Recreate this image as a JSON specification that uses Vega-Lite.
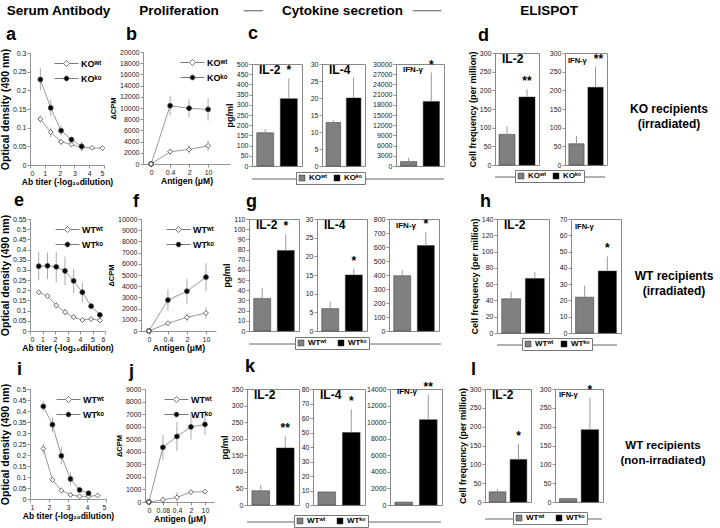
{
"$schema":"https://vega.github.io/schema/vega-lite/v6.json",
"background":"white",
"padding":{"left":0,"top":0,"right":0,"bottom":0},
"config":{
 "font":"Liberation Sans",
 "view":{"stroke":null},
 "axis":{"labelFontSize":7,"labelColor":"#222","tickSize":3,"tickColor":"#777","domainColor":"#777","domainWidth":0.8,"tickWidth":0.8,"grid":false,"titleFontSize":9,"titleFontWeight":"bold","titleColor":"#000","labelPadding":1,"titlePadding":2},
 "axisX":{"titlePadding":1,"titleFontSize":8.5},
 "title":{"anchor":"start","fontSize":18,"fontWeight":"bold","color":"#000","frame":"group"},
 "text":{"font":"Liberation Sans"}
},
"resolve":{"scale":{"color":"independent","fill":"independent","shape":"independent"},"legend":{"color":"independent","fill":"independent","shape":"independent"}},
"spacing":6,
"vconcat":[
{
 "spacing":22,
 "resolve":{"scale":{"color":"independent","shape":"independent"},"legend":{"color":"independent","shape":"independent"}},
 "hconcat":[
 {"spacing":-6,
  "resolve":{"scale":{"color":"independent","shape":"independent"},"legend":{"color":"independent","shape":"independent"}},
  "hconcat":[
  {"spacing":-4,
   "resolve":{"scale":{"color":"independent","shape":"independent"},"legend":{"color":"independent","shape":"independent"}},
   "hconcat":[
  {"spacing":4,"resolve":{"scale":{"color":"independent","shape":"independent"},"legend":{"color":"independent","shape":"independent"}},"vconcat":[
   {"width":57,"height":22,"data":{"values":[{"t":"Serum Antibody"}]},"mark":{"type":"text","fontSize":13.5,"fontWeight":"bold"},"encoding":{"text":{"field":"t"}}},
   {"width":74,"height":112,"title":{"text":"a","dx":-24,"offset":4},
    "data":{"values":[
     {"g":"KOʷᵗ","x":0.7,"y":0.123,"lo":0.113,"hi":0.133},{"g":"KOʷᵗ","x":1.4,"y":0.088,"lo":0.075,"hi":0.101},{"g":"KOʷᵗ","x":2.1,"y":0.062,"lo":0.054,"hi":0.07},{"g":"KOʷᵗ","x":2.8,"y":0.055,"lo":0.048,"hi":0.062},{"g":"KOʷᵗ","x":3.49,"y":0.047,"lo":0.037,"hi":0.057},{"g":"KOʷᵗ","x":4.19,"y":0.046,"lo":0.042,"hi":0.05},{"g":"KOʷᵗ","x":4.89,"y":0.045,"lo":0.042,"hi":0.048},
     {"g":"KOᵏᵒ","x":0.7,"y":0.229,"lo":0.199,"hi":0.259},{"g":"KOᵏᵒ","x":1.4,"y":0.153,"lo":0.131,"hi":0.175},{"g":"KOᵏᵒ","x":2.1,"y":0.092,"lo":0.079,"hi":0.105},{"g":"KOᵏᵒ","x":2.8,"y":0.068,"lo":0.06,"hi":0.076},{"g":"KOᵏᵒ","x":3.49,"y":0.05,"lo":0.038,"hi":0.062}]},
    "encoding":{
     "x":{"field":"x","type":"quantitative","scale":{"domain":[0,5],"nice":false},"axis":{"values":[0,1,2,3,4,5],"title":"Ab titer (-log₁₀dilution)"}},
     "y":{"field":"y","type":"quantitative","scale":{"domain":[0,0.3],"nice":false},"axis":{"values":[0,0.05,0.1,0.15,0.2,0.25,0.3],"format":"~g","title":"Optical density (490 nm)","titleFontSize":10.5}}},
    "resolve":{"scale":{"shape":"independent","color":"independent"}},
    "layer":[
     {"mark":{"type":"rule","color":"#aaa","strokeWidth":1},"encoding":{"y":{"field":"lo","type":"quantitative","scale":{"domain":[0,0.3],"nice":false},"axis":{"values":[0,0.05,0.1,0.15,0.2,0.25,0.3],"format":"~g","title":"Optical density (490 nm)","titleFontSize":10.5}},"y2":{"field":"hi"}}},
     {"mark":{"type":"line","color":"#999","strokeWidth":1},"encoding":{"detail":{"field":"g"}}},
     {"mark":{"type":"point","filled":true,"size":24,"stroke":"#444","strokeWidth":0.8,"opacity":1},"encoding":{
      "shape":{"field":"g","type":"nominal","scale":{"domain":["KOʷᵗ","KOᵏᵒ"],"range":["diamond","circle"]},"legend":null},
      "color":{"field":"g","type":"nominal","scale":{"domain":["KOʷᵗ","KOᵏᵒ"],"range":["white","black"]},"legend":null}}},
     {"mark":{"type":"point","filled":true,"size":0,"stroke":"#555","strokeWidth":0.8},"encoding":{
      "shape":{"field":"g","type":"nominal","scale":{"domain":["KOʷᵗ","KOᵏᵒ"],"range":["M-1.5,0H-0.38M0.38,0H1.5M0,-0.38L0.38,0L0,0.38L-0.38,0Z","M-1.5,0H-0.3M0.3,0H1.5M-0.3,0A0.3,0.3 0 1,0 0.3,0A0.3,0.3 0 1,0 -0.3,0Z"]},"legend":{"orient":"top-right","offset":2,"title":null,"labelFontSize":9,"labelFontWeight":"bold","symbolSize":256,"labelOffset":6,"rowPadding":1,"symbolOpacity":1,"symbolStrokeWidth":0.8}},
      "color":{"field":"g","type":"nominal","scale":{"domain":["KOʷᵗ","KOᵏᵒ"],"range":["white","black"]},"legend":{"orient":"top-right","offset":2,"title":null,"labelFontSize":9,"labelFontWeight":"bold","symbolSize":256,"labelOffset":6,"rowPadding":1,"symbolOpacity":1,"symbolStrokeWidth":0.8}}}}
    ]}
  ]},
  {"spacing":4,"resolve":{"scale":{"color":"independent","shape":"independent"},"legend":{"color":"independent","shape":"independent"}},"vconcat":[
   {"width":72,"height":22,"data":{"values":[{"t":"Proliferation"}]},"mark":{"type":"text","fontSize":13.5,"fontWeight":"bold"},"encoding":{"text":{"field":"t"}}},
   {"width":87,"height":112,"title":{"text":"b","dx":-17,"offset":4},
    "data":{"values":[
     {"g":"KOᵏᵒ","x":0,"y":0,"lo":0,"hi":0},{"g":"KOᵏᵒ","x":0.4,"y":10400,"lo":8600,"hi":12200},{"g":"KOᵏᵒ","x":2,"y":9950,"lo":8300,"hi":11600},{"g":"KOᵏᵒ","x":10,"y":9750,"lo":7750,"hi":11750},
     {"g":"KOʷᵗ","x":0,"y":0,"lo":0,"hi":0},{"g":"KOʷᵗ","x":0.4,"y":2200,"lo":1600,"hi":2800},{"g":"KOʷᵗ","x":2,"y":2600,"lo":1800,"hi":3400},{"g":"KOʷᵗ","x":10,"y":3250,"lo":2300,"hi":4200}]},
    "encoding":{
     "x":{"field":"x","type":"ordinal","scale":{"type":"point","padding":0.79,"align":0.27},"axis":{"title":"Antigen (μM)","labelAngle":0}},
     "y":{"field":"y","type":"quantitative","scale":{"domain":[0,20000],"nice":false},"axis":{"values":[0,2000,4000,6000,8000,10000,12000,14000,16000,18000,20000],"format":"d","title":"ΔCPM","titleFontSize":7.5,"titlePadding":2}}},
    "resolve":{"scale":{"shape":"independent","color":"independent"}},
    "layer":[
     {"mark":{"type":"rule","color":"#aaa","strokeWidth":1},"encoding":{"y":{"field":"lo","type":"quantitative","scale":{"domain":[0,20000],"nice":false},"axis":{"values":[0,2000,4000,6000,8000,10000,12000,14000,16000,18000,20000],"format":"d","title":"ΔCPM","titleFontSize":7.5,"titlePadding":2}},"y2":{"field":"hi"}}},
     {"mark":{"type":"line","color":"#999","strokeWidth":1},"encoding":{"detail":{"field":"g"}}},
     {"mark":{"type":"point","filled":true,"size":24,"stroke":"#444","strokeWidth":0.8,"opacity":1},"encoding":{
      "shape":{"field":"g","type":"nominal","scale":{"domain":["KOʷᵗ","KOᵏᵒ"],"range":["diamond","circle"]},"legend":null},
      "color":{"field":"g","type":"nominal","scale":{"domain":["KOʷᵗ","KOᵏᵒ"],"range":["white","black"]},"legend":null}}},
     {"mark":{"type":"point","filled":true,"size":0,"stroke":"#555","strokeWidth":0.8},"encoding":{
      "shape":{"field":"g","type":"nominal","scale":{"domain":["KOʷᵗ","KOᵏᵒ"],"range":["M-1.5,0H-0.38M0.38,0H1.5M0,-0.38L0.38,0L0,0.38L-0.38,0Z","M-1.5,0H-0.3M0.3,0H1.5M-0.3,0A0.3,0.3 0 1,0 0.3,0A0.3,0.3 0 1,0 -0.3,0Z"]},"legend":{"orient":"top-right","offset":2,"title":null,"labelFontSize":9,"labelFontWeight":"bold","symbolSize":256,"labelOffset":6,"rowPadding":1,"symbolOpacity":1,"symbolStrokeWidth":0.8}},
      "color":{"field":"g","type":"nominal","scale":{"domain":["KOʷᵗ","KOᵏᵒ"],"range":["white","black"]},"legend":{"orient":"top-right","offset":2,"title":null,"labelFontSize":9,"labelFontWeight":"bold","symbolSize":256,"labelOffset":6,"rowPadding":1,"symbolOpacity":1,"symbolStrokeWidth":0.8}}}}
    ]}
  ]}
  ]},
  {"spacing":3,"resolve":{"scale":{"color":"independent"},"legend":{"color":"independent"}},"vconcat":[
   {"width":181,"height":22,"data":{"values":[{"t":"Cytokine secretion","d":"\u00a0\u00a0\u00a0\u00a0\u00a0──\u00a0\u00a0\u00a0\u00a0\u00a0\u00a0\u00a0\u00a0\u00a0\u00a0\u00a0\u00a0\u00a0\u00a0\u00a0\u00a0\u00a0\u00a0\u00a0\u00a0\u00a0\u00a0\u00a0\u00a0\u00a0\u00a0\u00a0\u00a0\u00a0\u00a0\u00a0\u00a0\u00a0\u00a0\u00a0\u00a0\u00a0\u00a0\u00a0\u00a0───"}]},"layer":[
     {"mark":{"type":"text","fontSize":13.5,"fontWeight":"normal","color":"#666"},"encoding":{"text":{"field":"d"}}},
     {"mark":{"type":"text","fontSize":13.5,"fontWeight":"bold"},"encoding":{"text":{"field":"t"}}}]},
   {"spacing":1,"resolve":{"scale":{"color":"independent"},"legend":{"color":"independent"}},"vconcat":[
    {"title":{"text":"c","dx":-4,"offset":15},"spacing":6,"hconcat":[
     {"width":50,"height":102,"view":{"stroke":"#888"},"title":{"text":"IL-2","dx":7,"offset":-17,"fontSize":12},
      "data":{"values":[{"g":"KOʷᵗ","v":163,"hi":181,"s":""},{"g":"KOᵏᵒ","v":330,"hi":430,"s":"*"}]},
      "encoding":{"x":{"field":"g","type":"nominal","sort":null,"axis":null,"scale":{"paddingInner":0.28,"paddingOuter":0.2}},
       "y":{"field":"v","type":"quantitative","scale":{"domain":[0,500],"nice":false},"axis":{"values":[0,50,100,150,200,250,300,350,400,450,500],"title":"pg/ml","domain":false}}},
      "layer":[
       {"mark":{"type":"bar","stroke":"#333","strokeWidth":0.5},"encoding":{"color":{"field":"g","type":"nominal","sort":null,"scale":{"range":["#808080","#000000"]},"legend":null}}},
       {"mark":{"type":"rule","color":"#999","strokeWidth":1},"encoding":{"y2":{"field":"hi"}}},
       {"mark":{"type":"text","baseline":"bottom","dy":-1,"fontSize":12,"fontWeight":"bold"},"encoding":{"y":{"field":"hi","type":"quantitative","scale":{"domain":[0,500],"nice":false},"title":"pg/ml"},"text":{"field":"s"}}}]},
     {"width":43,"height":102,"view":{"stroke":"#888"},"title":{"text":"IL-4","dx":7,"offset":-17,"fontSize":12},
      "data":{"values":[{"g":"KOʷᵗ","v":12.8,"hi":13.5,"s":""},{"g":"KOᵏᵒ","v":20,"hi":26,"s":""}]},
      "encoding":{"x":{"field":"g","type":"nominal","sort":null,"axis":null,"scale":{"paddingInner":0.28,"paddingOuter":0.2}},
       "y":{"field":"v","type":"quantitative","scale":{"domain":[0,30],"nice":false},"axis":{"values":[0,5,10,15,20,25,30],"title":null,"domain":false}}},
      "layer":[
       {"mark":{"type":"bar","stroke":"#333","strokeWidth":0.5},"encoding":{"color":{"field":"g","type":"nominal","sort":null,"scale":{"range":["#808080","#000000"]},"legend":null}}},
       {"mark":{"type":"rule","color":"#999","strokeWidth":1},"encoding":{"y2":{"field":"hi"}}}]},
     {"width":48,"height":102,"view":{"stroke":"#888"},"title":{"text":"IFN-γ","dx":7,"offset":-15,"fontSize":8},
      "data":{"values":[{"g":"KOʷᵗ","v":1300,"hi":2400,"s":""},{"g":"KOᵏᵒ","v":19000,"hi":27500,"s":"*"}]},
      "encoding":{"x":{"field":"g","type":"nominal","sort":null,"axis":null,"scale":{"paddingInner":0.28,"paddingOuter":0.2}},
       "y":{"field":"v","type":"quantitative","scale":{"domain":[0,30000],"nice":false},"axis":{"values":[0,3000,6000,9000,12000,15000,18000,21000,24000,27000,30000],"format":"d","title":null,"domain":false}}},
      "layer":[
       {"mark":{"type":"bar","stroke":"#333","strokeWidth":0.5},"encoding":{"color":{"field":"g","type":"nominal","sort":null,"scale":{"range":["#808080","#000000"]},"legend":null}}},
       {"mark":{"type":"rule","color":"#999","strokeWidth":1},"encoding":{"y2":{"field":"hi"}}},
       {"mark":{"type":"text","baseline":"bottom","dy":-1,"fontSize":12,"fontWeight":"bold"},"encoding":{"y":{"field":"hi","type":"quantitative","scale":{"domain":[0,30000],"nice":false},"title":null},"text":{"field":"s"}}}]}
    ]},
    {"width":192,"height":8,"data":{"values":[{"g":"KOʷᵗ"},{"g":"KOᵏᵒ"}]},"layer":[
     {"mark":{"type":"rule","color":"#888","strokeWidth":0.8},"encoding":{"y":{"datum":0.5,"type":"quantitative","scale":{"domain":[0,1]},"axis":null}}},
     {"mark":{"type":"bar"},"encoding":{"y":{"datum":0.5,"type":"quantitative","axis":null},"y2":{"datum":0.5},"color":{"field":"g","type":"nominal","scale":{"domain":["KOʷᵗ","KOᵏᵒ"],"range":["#808080","#000000"]},"legend":{"orient":"none","legendX":44,"legendY":-3,"direction":"horizontal","title":null,"fillColor":"white","strokeColor":"#777","padding":2,"symbolType":"square","symbolSize":36,"symbolStrokeColor":"#333","symbolStrokeWidth":0.5,"labelFontSize":8,"labelFontWeight":"bold","columnPadding":6,"labelOffset":3}}}}]}
   ]}
  ]}
 ]},
  {"spacing":4,"resolve":{"scale":{"color":"independent"},"legend":{"color":"independent"}},"vconcat":[
   {"width":108,"height":22,"data":{"values":[{"t":"ELISPOT"}]},"mark":{"type":"text","fontSize":13.5,"fontWeight":"bold"},"encoding":{"text":{"field":"t"}}},
   {"spacing":0,"resolve":{"scale":{"color":"independent"},"legend":{"color":"independent"}},"vconcat":[
    {"spacing":12,"hconcat":[
     {"title":{"text":"d","dx":-17,"offset":4},"spacing":8,"hconcat":[
      {"width":44,"height":112,"view":{"stroke":"#888"},"title":{"text":"IL-2","dx":7,"offset":-17,"fontSize":12},
       "data":{"values":[{"g":"KOʷᵗ","v":82,"hi":104,"s":""},{"g":"KOᵏᵒ","v":182,"hi":203,"s":"**"}]},
       "encoding":{"x":{"field":"g","type":"nominal","sort":null,"axis":null,"scale":{"paddingInner":0.2,"paddingOuter":0.2}},
        "y":{"field":"v","type":"quantitative","scale":{"domain":[0,300],"nice":false},"axis":{"values":[0,50,100,150,200,250,300],"title":"Cell frequency (per million)","domain":false}}},
       "layer":[
        {"mark":{"type":"bar","stroke":"#333","strokeWidth":0.5},"encoding":{"color":{"field":"g","type":"nominal","sort":null,"scale":{"range":["#808080","#000000"]},"legend":null}}},
        {"mark":{"type":"rule","color":"#999","strokeWidth":1},"encoding":{"y2":{"field":"hi"}}},
        {"mark":{"type":"text","baseline":"bottom","dy":-1,"fontSize":12,"fontWeight":"bold"},"encoding":{"y":{"field":"hi","type":"quantitative","scale":{"domain":[0,300],"nice":false},"title":"Cell frequency (per million)"},"text":{"field":"s"}}}]},
      {"width":42,"height":112,"view":{"stroke":"#888"},"title":{"text":"IFN-γ","dx":3,"offset":-15,"fontSize":7.5},
       "data":{"values":[{"g":"KOʷᵗ","v":57,"hi":78,"s":""},{"g":"KOᵏᵒ","v":208,"hi":263,"s":"**"}]},
       "encoding":{"x":{"field":"g","type":"nominal","sort":null,"axis":null,"scale":{"paddingInner":0.2,"paddingOuter":0.2}},
        "y":{"field":"v","type":"quantitative","scale":{"domain":[0,300],"nice":false},"axis":{"values":[0,50,100,150,200,250,300],"title":null,"domain":false}}},
       "layer":[
        {"mark":{"type":"bar","stroke":"#333","strokeWidth":0.5},"encoding":{"color":{"field":"g","type":"nominal","sort":null,"scale":{"range":["#808080","#000000"]},"legend":null}}},
        {"mark":{"type":"rule","color":"#999","strokeWidth":1},"encoding":{"y2":{"field":"hi"}}},
        {"mark":{"type":"text","baseline":"bottom","dy":-1,"dx":3,"fontSize":12,"fontWeight":"bold"},"encoding":{"y":{"field":"hi","type":"quantitative","scale":{"domain":[0,300],"nice":false},"title":null},"text":{"field":"s"}}}]}
     ]},
     {"width":98,"height":112,"data":{"values":[{"t":"KO recipients\n(irradiated)"}]},"mark":{"type":"text","fontSize":12,"fontWeight":"bold","lineBreak":"\n","lineHeight":15},"encoding":{"text":{"field":"t"}}}
    ]},
    {"width":110,"height":8,"data":{"values":[{"g":"KOʷᵗ"},{"g":"KOᵏᵒ"}]},"layer":[
     {"mark":{"type":"rule","color":"#888","strokeWidth":0.8},"encoding":{"y":{"datum":0.5,"type":"quantitative","scale":{"domain":[0,1]},"axis":null}}},
     {"mark":{"type":"bar"},"encoding":{"y":{"datum":0.5,"type":"quantitative","axis":null},"y2":{"datum":0.5},"color":{"field":"g","type":"nominal","scale":{"domain":["KOʷᵗ","KOᵏᵒ"],"range":["#808080","#000000"]},"legend":{"orient":"none","legendX":20,"legendY":-3,"direction":"horizontal","title":null,"fillColor":"white","strokeColor":"#777","padding":2,"symbolType":"square","symbolSize":36,"symbolStrokeColor":"#333","symbolStrokeWidth":0.5,"labelFontSize":8,"labelFontWeight":"bold","columnPadding":6,"labelOffset":3}}}}]}
   ]}
  ]}
 ]
},
{
 "spacing":27,
 "resolve":{"scale":{"color":"independent","shape":"independent"},"legend":{"color":"independent","shape":"independent"}},
 "hconcat":[
 {"spacing":5,
  "resolve":{"scale":{"color":"independent","shape":"independent"},"legend":{"color":"independent","shape":"independent"}},
  "hconcat":[
  {"spacing":-7,
   "resolve":{"scale":{"color":"independent","shape":"independent"},"legend":{"color":"independent","shape":"independent"}},
   "hconcat":[
   {"width":75,"height":112,"title":{"text":"e","dx":-16,"offset":4},
    "data":{"values":[
     {"g":"WTʷᵗ","x":0.7,"y":0.19,"lo":0.178,"hi":0.202},{"g":"WTʷᵗ","x":1.4,"y":0.172,"lo":0.162,"hi":0.182},{"g":"WTʷᵗ","x":2.1,"y":0.125,"lo":0.11,"hi":0.14},{"g":"WTʷᵗ","x":2.8,"y":0.093,"lo":0.078,"hi":0.108},{"g":"WTʷᵗ","x":3.49,"y":0.068,"lo":0.058,"hi":0.078},{"g":"WTʷᵗ","x":4.19,"y":0.054,"lo":0.044,"hi":0.064},{"g":"WTʷᵗ","x":4.89,"y":0.059,"lo":0.049,"hi":0.069},{"g":"WTʷᵗ","x":5.59,"y":0.052,"lo":0.04,"hi":0.064},
     {"g":"WTᵏᵒ","x":0.7,"y":0.318,"lo":0.248,"hi":0.388},{"g":"WTᵏᵒ","x":1.4,"y":0.32,"lo":0.255,"hi":0.385},{"g":"WTᵏᵒ","x":2.1,"y":0.315,"lo":0.24,"hi":0.39},{"g":"WTᵏᵒ","x":2.8,"y":0.295,"lo":0.225,"hi":0.365},{"g":"WTᵏᵒ","x":3.49,"y":0.246,"lo":0.186,"hi":0.306},{"g":"WTᵏᵒ","x":4.19,"y":0.19,"lo":0.14,"hi":0.24},{"g":"WTᵏᵒ","x":4.89,"y":0.122,"lo":0.107,"hi":0.137},{"g":"WTᵏᵒ","x":5.59,"y":0.079,"lo":0.069,"hi":0.089}]},
    "encoding":{
     "x":{"field":"x","type":"quantitative","scale":{"domain":[0,6],"nice":false},"axis":{"values":[0,1,2,3,4,5,6],"title":"Ab titer (-log₁₀dilution)"}},
     "y":{"field":"y","type":"quantitative","scale":{"domain":[0,0.55],"nice":false},"axis":{"values":[0,0.05,0.1,0.15,0.2,0.25,0.3,0.35,0.4,0.45,0.5,0.55],"format":"~g","title":"Optical density (490 nm)","titleFontSize":10.5}}},
    "resolve":{"scale":{"shape":"independent","color":"independent"}},
    "layer":[
     {"mark":{"type":"rule","color":"#aaa","strokeWidth":1},"encoding":{"y":{"field":"lo","type":"quantitative","scale":{"domain":[0,0.55],"nice":false},"axis":{"values":[0,0.05,0.1,0.15,0.2,0.25,0.3,0.35,0.4,0.45,0.5,0.55],"format":"~g","title":"Optical density (490 nm)","titleFontSize":10.5}},"y2":{"field":"hi"}}},
     {"mark":{"type":"line","color":"#999","strokeWidth":1},"encoding":{"detail":{"field":"g"}}},
     {"mark":{"type":"point","filled":true,"size":24,"stroke":"#444","strokeWidth":0.8,"opacity":1},"encoding":{
      "shape":{"field":"g","type":"nominal","scale":{"domain":["WTʷᵗ","WTᵏᵒ"],"range":["diamond","circle"]},"legend":null},
      "color":{"field":"g","type":"nominal","scale":{"domain":["WTʷᵗ","WTᵏᵒ"],"range":["white","black"]},"legend":null}}},
     {"mark":{"type":"point","filled":true,"size":0,"stroke":"#555","strokeWidth":0.8},"encoding":{
      "shape":{"field":"g","type":"nominal","scale":{"domain":["WTʷᵗ","WTᵏᵒ"],"range":["M-1.5,0H-0.38M0.38,0H1.5M0,-0.38L0.38,0L0,0.38L-0.38,0Z","M-1.5,0H-0.3M0.3,0H1.5M-0.3,0A0.3,0.3 0 1,0 0.3,0A0.3,0.3 0 1,0 -0.3,0Z"]},"legend":{"orient":"top-right","offset":2,"title":null,"labelFontSize":9,"labelFontWeight":"bold","symbolSize":256,"labelOffset":6,"rowPadding":1,"symbolOpacity":1,"symbolStrokeWidth":0.8}},
      "color":{"field":"g","type":"nominal","scale":{"domain":["WTʷᵗ","WTᵏᵒ"],"range":["white","black"]},"legend":{"orient":"top-right","offset":2,"title":null,"labelFontSize":9,"labelFontWeight":"bold","symbolSize":256,"labelOffset":6,"rowPadding":1,"symbolOpacity":1,"symbolStrokeWidth":0.8}}}}
    ]},
   {"width":75,"height":112,"title":{"text":"f","dx":-8,"offset":4},
    "data":{"values":[
     {"g":"WTᵏᵒ","x":0,"y":0,"lo":0,"hi":0},{"g":"WTᵏᵒ","x":0.4,"y":2760,"lo":1810,"hi":3710},{"g":"WTᵏᵒ","x":2,"y":3550,"lo":2450,"hi":4650},{"g":"WTᵏᵒ","x":10,"y":4810,"lo":3560,"hi":6060},
     {"g":"WTʷᵗ","x":0,"y":0,"lo":0,"hi":0},{"g":"WTʷᵗ","x":0.4,"y":690,"lo":540,"hi":840},{"g":"WTʷᵗ","x":2,"y":1220,"lo":870,"hi":1570},{"g":"WTʷᵗ","x":10,"y":1600,"lo":1100,"hi":2150}]},
    "encoding":{
     "x":{"field":"x","type":"ordinal","scale":{"type":"point","padding":0.47,"align":0.44},"axis":{"title":"Antigen (μM)","labelAngle":0}},
     "y":{"field":"y","type":"quantitative","scale":{"domain":[0,10000],"nice":false},"axis":{"values":[0,1000,2000,3000,4000,5000,6000,7000,8000,9000,10000],"format":"d","title":"ΔCPM","titleFontSize":7.5,"titlePadding":2}}},
    "resolve":{"scale":{"shape":"independent","color":"independent"}},
    "layer":[
     {"mark":{"type":"rule","color":"#aaa","strokeWidth":1},"encoding":{"y":{"field":"lo","type":"quantitative","scale":{"domain":[0,10000],"nice":false},"axis":{"values":[0,1000,2000,3000,4000,5000,6000,7000,8000,9000,10000],"format":"d","title":"ΔCPM","titleFontSize":7.5,"titlePadding":2}},"y2":{"field":"hi"}}},
     {"mark":{"type":"line","color":"#999","strokeWidth":1},"encoding":{"detail":{"field":"g"}}},
     {"mark":{"type":"point","filled":true,"size":24,"stroke":"#444","strokeWidth":0.8,"opacity":1},"encoding":{
      "shape":{"field":"g","type":"nominal","scale":{"domain":["WTʷᵗ","WTᵏᵒ"],"range":["diamond","circle"]},"legend":null},
      "color":{"field":"g","type":"nominal","scale":{"domain":["WTʷᵗ","WTᵏᵒ"],"range":["white","black"]},"legend":null}}},
     {"mark":{"type":"point","filled":true,"size":0,"stroke":"#555","strokeWidth":0.8},"encoding":{
      "shape":{"field":"g","type":"nominal","scale":{"domain":["WTʷᵗ","WTᵏᵒ"],"range":["M-1.5,0H-0.38M0.38,0H1.5M0,-0.38L0.38,0L0,0.38L-0.38,0Z","M-1.5,0H-0.3M0.3,0H1.5M-0.3,0A0.3,0.3 0 1,0 0.3,0A0.3,0.3 0 1,0 -0.3,0Z"]},"legend":{"orient":"top-right","offset":2,"title":null,"labelFontSize":9,"labelFontWeight":"bold","symbolSize":256,"labelOffset":6,"rowPadding":1,"symbolOpacity":1,"symbolStrokeWidth":0.8}},
      "color":{"field":"g","type":"nominal","scale":{"domain":["WTʷᵗ","WTᵏᵒ"],"range":["white","black"]},"legend":{"orient":"top-right","offset":2,"title":null,"labelFontSize":9,"labelFontWeight":"bold","symbolSize":256,"labelOffset":6,"rowPadding":1,"symbolOpacity":1,"symbolStrokeWidth":0.8}}}}
    ]}
   ]},
   {"spacing":1,"resolve":{"scale":{"color":"independent"},"legend":{"color":"independent"}},"vconcat":[
    {"title":{"text":"g","dx":-3,"offset":4},"spacing":4,"hconcat":[
     {"width":50,"height":112,"view":{"stroke":"#888"},"title":{"text":"IL-2","dx":7,"offset":-17,"fontSize":12},
      "data":{"values":[{"g":"WTʷᵗ","v":32,"hi":42,"s":""},{"g":"WTᵏᵒ","v":79,"hi":95,"s":"*"}]},
      "encoding":{"x":{"field":"g","type":"nominal","sort":null,"axis":null,"scale":{"paddingInner":0.28,"paddingOuter":0.2}},
       "y":{"field":"v","type":"quantitative","scale":{"domain":[0,110],"nice":false},"axis":{"values":[0,10,20,30,40,50,60,70,80,90,100,110],"title":"pg/ml","domain":false}}},
      "layer":[
       {"mark":{"type":"bar","stroke":"#333","strokeWidth":0.5},"encoding":{"color":{"field":"g","type":"nominal","sort":null,"scale":{"range":["#808080","#000000"]},"legend":null}}},
       {"mark":{"type":"rule","color":"#999","strokeWidth":1},"encoding":{"y2":{"field":"hi"}}},
       {"mark":{"type":"text","baseline":"bottom","dy":-1,"fontSize":12,"fontWeight":"bold"},"encoding":{"y":{"field":"hi","type":"quantitative","scale":{"domain":[0,110],"nice":false},"title":"pg/ml"},"text":{"field":"s"}}}]},
     {"width":50,"height":112,"view":{"stroke":"#888"},"title":{"text":"IL-4","dx":7,"offset":-17,"fontSize":12},
      "data":{"values":[{"g":"WTʷᵗ","v":6,"hi":7.8,"s":""},{"g":"WTᵏᵒ","v":15,"hi":16.7,"s":"*"}]},
      "encoding":{"x":{"field":"g","type":"nominal","sort":null,"axis":null,"scale":{"paddingInner":0.28,"paddingOuter":0.2}},
       "y":{"field":"v","type":"quantitative","scale":{"domain":[0,30],"nice":false},"axis":{"values":[0,5,10,15,20,25,30],"title":null,"domain":false}}},
      "layer":[
       {"mark":{"type":"bar","stroke":"#333","strokeWidth":0.5},"encoding":{"color":{"field":"g","type":"nominal","sort":null,"scale":{"range":["#808080","#000000"]},"legend":null}}},
       {"mark":{"type":"rule","color":"#999","strokeWidth":1},"encoding":{"y2":{"field":"hi"}}},
       {"mark":{"type":"text","baseline":"bottom","dy":-1,"fontSize":12,"fontWeight":"bold"},"encoding":{"y":{"field":"hi","type":"quantitative","scale":{"domain":[0,30],"nice":false},"title":null},"text":{"field":"s"}}}]},
     {"width":50,"height":112,"view":{"stroke":"#888"},"title":{"text":"IFN-γ","dx":7,"offset":-15,"fontSize":8},
      "data":{"values":[{"g":"WTʷᵗ","v":395,"hi":435,"s":""},{"g":"WTᵏᵒ","v":610,"hi":705,"s":"*"}]},
      "encoding":{"x":{"field":"g","type":"nominal","sort":null,"axis":null,"scale":{"paddingInner":0.28,"paddingOuter":0.2}},
       "y":{"field":"v","type":"quantitative","scale":{"domain":[0,800],"nice":false},"axis":{"values":[0,100,200,300,400,500,600,700,800],"title":null,"domain":false}}},
      "layer":[
       {"mark":{"type":"bar","stroke":"#333","strokeWidth":0.5},"encoding":{"color":{"field":"g","type":"nominal","sort":null,"scale":{"range":["#808080","#000000"]},"legend":null}}},
       {"mark":{"type":"rule","color":"#999","strokeWidth":1},"encoding":{"y2":{"field":"hi"}}},
       {"mark":{"type":"text","baseline":"bottom","dy":-1,"fontSize":12,"fontWeight":"bold"},"encoding":{"y":{"field":"hi","type":"quantitative","scale":{"domain":[0,800],"nice":false},"title":null},"text":{"field":"s"}}}]}
    ]},
    {"width":192,"height":8,"data":{"values":[{"g":"WTʷᵗ"},{"g":"WTᵏᵒ"}]},"layer":[
     {"mark":{"type":"rule","color":"#888","strokeWidth":0.8},"encoding":{"y":{"datum":0.5,"type":"quantitative","scale":{"domain":[0,1]},"axis":null}}},
     {"mark":{"type":"bar"},"encoding":{"y":{"datum":0.5,"type":"quantitative","axis":null},"y2":{"datum":0.5},"color":{"field":"g","type":"nominal","scale":{"domain":["WTʷᵗ","WTᵏᵒ"],"range":["#808080","#000000"]},"legend":{"orient":"none","legendX":46,"legendY":-3,"direction":"horizontal","title":null,"fillColor":"white","strokeColor":"#777","padding":2,"symbolType":"square","symbolSize":36,"symbolStrokeColor":"#333","symbolStrokeWidth":0.5,"labelFontSize":8,"labelFontWeight":"bold","columnPadding":10,"labelOffset":3}}}}]}
   ]}
 ]},
   {"spacing":0,"resolve":{"scale":{"color":"independent"},"legend":{"color":"independent"}},"vconcat":[
    {"spacing":10,"hconcat":[
     {"title":{"text":"h","dx":-17,"offset":4},"spacing":8,"hconcat":[
      {"width":52,"height":114,"view":{"stroke":"#888"},"title":{"text":"IL-2","dx":7,"offset":-17,"fontSize":12},
       "data":{"values":[{"g":"WTʷᵗ","v":42,"hi":51,"s":""},{"g":"WTᵏᵒ","v":67,"hi":75,"s":""}]},
       "encoding":{"x":{"field":"g","type":"nominal","sort":null,"axis":null,"scale":{"paddingInner":0.2,"paddingOuter":0.2}},
        "y":{"field":"v","type":"quantitative","scale":{"domain":[0,140],"nice":false},"axis":{"values":[0,20,40,60,80,100,120,140],"title":"Cell frequency (per million)","domain":false}}},
       "layer":[
        {"mark":{"type":"bar","stroke":"#333","strokeWidth":0.5},"encoding":{"color":{"field":"g","type":"nominal","sort":null,"scale":{"range":["#808080","#000000"]},"legend":null}}},
        {"mark":{"type":"rule","color":"#999","strokeWidth":1},"encoding":{"y2":{"field":"hi"}}}]},
      {"width":50,"height":114,"view":{"stroke":"#888"},"title":{"text":"IFN-γ","dx":4,"offset":-15,"fontSize":7.5},
       "data":{"values":[{"g":"WTʷᵗ","v":22,"hi":29,"s":""},{"g":"WTᵏᵒ","v":38,"hi":47,"s":"*"}]},
       "encoding":{"x":{"field":"g","type":"nominal","sort":null,"axis":null,"scale":{"paddingInner":0.2,"paddingOuter":0.2}},
        "y":{"field":"v","type":"quantitative","scale":{"domain":[0,70],"nice":false},"axis":{"values":[0,10,20,30,40,50,60,70],"title":null,"domain":false}}},
       "layer":[
        {"mark":{"type":"bar","stroke":"#333","strokeWidth":0.5},"encoding":{"color":{"field":"g","type":"nominal","sort":null,"scale":{"range":["#808080","#000000"]},"legend":null}}},
        {"mark":{"type":"rule","color":"#999","strokeWidth":1},"encoding":{"y2":{"field":"hi"}}},
        {"mark":{"type":"text","baseline":"bottom","dy":-1,"fontSize":12,"fontWeight":"bold"},"encoding":{"y":{"field":"hi","type":"quantitative","scale":{"domain":[0,70],"nice":false},"title":null},"text":{"field":"s"}}}]}
     ]},
     {"width":84,"height":114,"data":{"values":[{"t":"WT  recipients\n(irradiated)"}]},"mark":{"type":"text","fontSize":12,"fontWeight":"bold","lineBreak":"\n","lineHeight":15},"encoding":{"text":{"field":"t"}}}
    ]},
    {"width":120,"height":8,"data":{"values":[{"g":"WTʷᵗ"},{"g":"WTᵏᵒ"}]},"layer":[
     {"mark":{"type":"rule","color":"#888","strokeWidth":0.8},"encoding":{"y":{"datum":0.5,"type":"quantitative","scale":{"domain":[0,1]},"axis":null}}},
     {"mark":{"type":"bar"},"encoding":{"y":{"datum":0.5,"type":"quantitative","axis":null},"y2":{"datum":0.5},"color":{"field":"g","type":"nominal","scale":{"domain":["WTʷᵗ","WTᵏᵒ"],"range":["#808080","#000000"]},"legend":{"orient":"none","legendX":25,"legendY":-3,"direction":"horizontal","title":null,"fillColor":"white","strokeColor":"#777","padding":2,"symbolType":"square","symbolSize":36,"symbolStrokeColor":"#333","symbolStrokeWidth":0.5,"labelFontSize":8,"labelFontWeight":"bold","columnPadding":6,"labelOffset":3}}}}]}
   ]}
 ]
},
{
 "spacing":14,
 "resolve":{"scale":{"color":"independent","shape":"independent"},"legend":{"color":"independent","shape":"independent"}},
 "hconcat":[
 {"spacing":5,
  "resolve":{"scale":{"color":"independent","shape":"independent"},"legend":{"color":"independent","shape":"independent"}},
  "hconcat":[
  {"spacing":1,
   "resolve":{"scale":{"color":"independent","shape":"independent"},"legend":{"color":"independent","shape":"independent"}},
   "hconcat":[
   {"width":76,"height":110,"title":{"text":"i","dx":-13,"offset":4},
    "data":{"values":[
     {"g":"WTʷᵗ","x":1.7,"y":0.229,"lo":0.207,"hi":0.251},{"g":"WTʷᵗ","x":2.18,"y":0.087,"lo":0.079,"hi":0.095},{"g":"WTʷᵗ","x":2.65,"y":0.039,"lo":0.034,"hi":0.044},{"g":"WTʷᵗ","x":3.13,"y":0.019,"lo":0.014,"hi":0.024},{"g":"WTʷᵗ","x":3.61,"y":0.012,"lo":0.008,"hi":0.016},{"g":"WTʷᵗ","x":4.08,"y":0.012,"lo":0.008,"hi":0.016},{"g":"WTʷᵗ","x":4.56,"y":0.016,"lo":0.012,"hi":0.02},
     {"g":"WTᵏᵒ","x":1.7,"y":0.421,"lo":0.399,"hi":0.443},{"g":"WTᵏᵒ","x":2.18,"y":0.338,"lo":0.303,"hi":0.373},{"g":"WTᵏᵒ","x":2.65,"y":0.196,"lo":0.156,"hi":0.236},{"g":"WTᵏᵒ","x":3.13,"y":0.091,"lo":0.061,"hi":0.121},{"g":"WTᵏᵒ","x":3.61,"y":0.041,"lo":0.031,"hi":0.051},{"g":"WTᵏᵒ","x":4.08,"y":0.026,"lo":0.018,"hi":0.034}]},
    "encoding":{
     "x":{"field":"x","type":"quantitative","scale":{"domain":[1,5],"nice":false,"zero":false},"axis":{"values":[1,2,3,4,5],"title":"Ab titer (-log₁₀dilution)"}},
     "y":{"field":"y","type":"quantitative","scale":{"domain":[0,0.5],"nice":false},"axis":{"values":[0,0.05,0.1,0.15,0.2,0.25,0.3,0.35,0.4,0.45,0.5],"format":"~g","title":"Optical density (490 nm)","titleFontSize":10.5}}},
    "resolve":{"scale":{"shape":"independent","color":"independent"}},
    "layer":[
     {"mark":{"type":"rule","color":"#aaa","strokeWidth":1},"encoding":{"y":{"field":"lo","type":"quantitative","scale":{"domain":[0,0.5],"nice":false},"axis":{"values":[0,0.05,0.1,0.15,0.2,0.25,0.3,0.35,0.4,0.45,0.5],"format":"~g","title":"Optical density (490 nm)","titleFontSize":10.5}},"y2":{"field":"hi"}}},
     {"mark":{"type":"line","color":"#999","strokeWidth":1},"encoding":{"detail":{"field":"g"}}},
     {"mark":{"type":"point","filled":true,"size":24,"stroke":"#444","strokeWidth":0.8,"opacity":1},"encoding":{
      "shape":{"field":"g","type":"nominal","scale":{"domain":["WTʷᵗ","WTᵏᵒ"],"range":["diamond","circle"]},"legend":null},
      "color":{"field":"g","type":"nominal","scale":{"domain":["WTʷᵗ","WTᵏᵒ"],"range":["white","black"]},"legend":null}}},
     {"mark":{"type":"point","filled":true,"size":0,"stroke":"#555","strokeWidth":0.8},"encoding":{
      "shape":{"field":"g","type":"nominal","scale":{"domain":["WTʷᵗ","WTᵏᵒ"],"range":["M-1.5,0H-0.38M0.38,0H1.5M0,-0.38L0.38,0L0,0.38L-0.38,0Z","M-1.5,0H-0.3M0.3,0H1.5M-0.3,0A0.3,0.3 0 1,0 0.3,0A0.3,0.3 0 1,0 -0.3,0Z"]},"legend":{"orient":"top-right","offset":2,"title":null,"labelFontSize":9,"labelFontWeight":"bold","symbolSize":256,"labelOffset":6,"rowPadding":1,"symbolOpacity":1,"symbolStrokeWidth":0.8}},
      "color":{"field":"g","type":"nominal","scale":{"domain":["WTʷᵗ","WTᵏᵒ"],"range":["white","black"]},"legend":{"orient":"top-right","offset":2,"title":null,"labelFontSize":9,"labelFontWeight":"bold","symbolSize":256,"labelOffset":6,"rowPadding":1,"symbolOpacity":1,"symbolStrokeWidth":0.8}}}}
    ]},
   {"width":69,"height":113,"title":{"text":"j","dx":-16,"offset":4},
    "data":{"values":[
     {"g":"WTᵏᵒ","x":0,"y":0,"lo":0,"hi":0},{"g":"WTᵏᵒ","x":0.08,"y":4350,"lo":3350,"hi":5350},{"g":"WTᵏᵒ","x":0.4,"y":5220,"lo":4070,"hi":6370},{"g":"WTᵏᵒ","x":2,"y":5980,"lo":4980,"hi":6980},{"g":"WTᵏᵒ","x":10,"y":6180,"lo":5330,"hi":7030},
     {"g":"WTʷᵗ","x":0,"y":0,"lo":0,"hi":0},{"g":"WTʷᵗ","x":0.08,"y":170,"lo":0,"hi":450},{"g":"WTʷᵗ","x":0.4,"y":370,"lo":0,"hi":800},{"g":"WTʷᵗ","x":2,"y":790,"lo":790,"hi":790},{"g":"WTʷᵗ","x":10,"y":820,"lo":820,"hi":820}]},
    "encoding":{
     "x":{"field":"x","type":"ordinal","scale":{"type":"point","padding":0.46,"align":0.3},"axis":{"title":"Antigen (μM)","labelAngle":0}},
     "y":{"field":"y","type":"quantitative","scale":{"domain":[0,9000],"nice":false},"axis":{"values":[0,1000,2000,3000,4000,5000,6000,7000,8000,9000],"format":"d","title":"ΔCPM","titleFontSize":7.5,"titlePadding":2}}},
    "resolve":{"scale":{"shape":"independent","color":"independent"}},
    "layer":[
     {"mark":{"type":"rule","color":"#aaa","strokeWidth":1},"encoding":{"y":{"field":"lo","type":"quantitative","scale":{"domain":[0,9000],"nice":false},"axis":{"values":[0,1000,2000,3000,4000,5000,6000,7000,8000,9000],"format":"d","title":"ΔCPM","titleFontSize":7.5,"titlePadding":2}},"y2":{"field":"hi"}}},
     {"mark":{"type":"line","color":"#999","strokeWidth":1},"encoding":{"detail":{"field":"g"}}},
     {"mark":{"type":"point","filled":true,"size":24,"stroke":"#444","strokeWidth":0.8,"opacity":1},"encoding":{
      "shape":{"field":"g","type":"nominal","scale":{"domain":["WTʷᵗ","WTᵏᵒ"],"range":["diamond","circle"]},"legend":null},
      "color":{"field":"g","type":"nominal","scale":{"domain":["WTʷᵗ","WTᵏᵒ"],"range":["white","black"]},"legend":null}}},
     {"mark":{"type":"point","filled":true,"size":0,"stroke":"#555","strokeWidth":0.8},"encoding":{
      "shape":{"field":"g","type":"nominal","scale":{"domain":["WTʷᵗ","WTᵏᵒ"],"range":["M-1.5,0H-0.38M0.38,0H1.5M0,-0.38L0.38,0L0,0.38L-0.38,0Z","M-1.5,0H-0.3M0.3,0H1.5M-0.3,0A0.3,0.3 0 1,0 0.3,0A0.3,0.3 0 1,0 -0.3,0Z"]},"legend":{"orient":"top-right","offset":2,"title":null,"labelFontSize":9,"labelFontWeight":"bold","symbolSize":256,"labelOffset":6,"rowPadding":1,"symbolOpacity":1,"symbolStrokeWidth":0.8}},
      "color":{"field":"g","type":"nominal","scale":{"domain":["WTʷᵗ","WTᵏᵒ"],"range":["white","black"]},"legend":{"orient":"top-right","offset":2,"title":null,"labelFontSize":9,"labelFontWeight":"bold","symbolSize":256,"labelOffset":6,"rowPadding":1,"symbolOpacity":1,"symbolStrokeWidth":0.8}}}}
    ]}
   ]},
   {"spacing":5,"resolve":{"scale":{"color":"independent"},"legend":{"color":"independent"}},"vconcat":[
    {"title":{"text":"k","dx":-2,"offset":4},"spacing":0,"hconcat":[
     {"width":52,"height":116,"view":{"stroke":"#888"},"title":{"text":"IL-2","dx":7,"offset":-17,"fontSize":12},
      "data":{"values":[{"g":"WTʷᵗ","v":43,"hi":60,"s":""},{"g":"WTᵏᵒ","v":172,"hi":207,"s":"**"}]},
      "encoding":{"x":{"field":"g","type":"nominal","sort":null,"axis":null,"scale":{"paddingInner":0.28,"paddingOuter":0.2}},
       "y":{"field":"v","type":"quantitative","scale":{"domain":[0,350],"nice":false},"axis":{"values":[0,50,100,150,200,250,300,350],"title":"pg/ml","domain":false}}},
      "layer":[
       {"mark":{"type":"bar","stroke":"#333","strokeWidth":0.5},"encoding":{"color":{"field":"g","type":"nominal","sort":null,"scale":{"range":["#808080","#000000"]},"legend":null}}},
       {"mark":{"type":"rule","color":"#999","strokeWidth":1},"encoding":{"y2":{"field":"hi"}}},
       {"mark":{"type":"text","baseline":"bottom","dy":-1,"fontSize":12,"fontWeight":"bold"},"encoding":{"y":{"field":"hi","type":"quantitative","scale":{"domain":[0,350],"nice":false},"title":"pg/ml"},"text":{"field":"s"}}}]},
     {"width":52,"height":116,"view":{"stroke":"#888"},"title":{"text":"IL-4","dx":7,"offset":-17,"fontSize":12},
      "data":{"values":[{"g":"WTʷᵗ","v":9,"hi":9.5,"s":""},{"g":"WTᵏᵒ","v":50,"hi":66,"s":"*"}]},
      "encoding":{"x":{"field":"g","type":"nominal","sort":null,"axis":null,"scale":{"paddingInner":0.28,"paddingOuter":0.2}},
       "y":{"field":"v","type":"quantitative","scale":{"domain":[0,80],"nice":false},"axis":{"values":[0,10,20,30,40,50,60,70,80],"title":null,"domain":false}}},
      "layer":[
       {"mark":{"type":"bar","stroke":"#333","strokeWidth":0.5},"encoding":{"color":{"field":"g","type":"nominal","sort":null,"scale":{"range":["#808080","#000000"]},"legend":null}}},
       {"mark":{"type":"rule","color":"#999","strokeWidth":1},"encoding":{"y2":{"field":"hi"}}},
       {"mark":{"type":"text","baseline":"bottom","dy":-1,"fontSize":12,"fontWeight":"bold"},"encoding":{"y":{"field":"hi","type":"quantitative","scale":{"domain":[0,80],"nice":false},"title":null},"text":{"field":"s"}}}]},
     {"width":52,"height":116,"view":{"stroke":"#888"},"title":{"text":"IFN-γ","dx":7,"offset":-15,"fontSize":8},
      "data":{"values":[{"g":"WTʷᵗ","v":350,"hi":430,"s":""},{"g":"WTᵏᵒ","v":10300,"hi":13300,"s":"**"}]},
      "encoding":{"x":{"field":"g","type":"nominal","sort":null,"axis":null,"scale":{"paddingInner":0.28,"paddingOuter":0.2}},
       "y":{"field":"v","type":"quantitative","scale":{"domain":[0,14000],"nice":false},"axis":{"values":[0,2000,4000,6000,8000,10000,12000,14000],"format":"d","title":null,"domain":false}}},
      "layer":[
       {"mark":{"type":"bar","stroke":"#333","strokeWidth":0.5},"encoding":{"color":{"field":"g","type":"nominal","sort":null,"scale":{"range":["#808080","#000000"]},"legend":null}}},
       {"mark":{"type":"rule","color":"#999","strokeWidth":1},"encoding":{"y2":{"field":"hi"}}},
       {"mark":{"type":"text","baseline":"bottom","dy":-1,"fontSize":12,"fontWeight":"bold"},"encoding":{"y":{"field":"hi","type":"quantitative","scale":{"domain":[0,14000],"nice":false},"title":null},"text":{"field":"s"}}}]}
    ]},
    {"width":194,"height":8,"data":{"values":[{"g":"WTʷᵗ"},{"g":"WTᵏᵒ"}]},"layer":[
     {"mark":{"type":"rule","color":"#888","strokeWidth":0.8},"encoding":{"y":{"datum":0.5,"type":"quantitative","scale":{"domain":[0,1]},"axis":null}}},
     {"mark":{"type":"bar"},"encoding":{"y":{"datum":0.5,"type":"quantitative","axis":null},"y2":{"datum":0.5},"color":{"field":"g","type":"nominal","scale":{"domain":["WTʷᵗ","WTᵏᵒ"],"range":["#808080","#000000"]},"legend":{"orient":"none","legendX":47,"legendY":-3,"direction":"horizontal","title":null,"fillColor":"white","strokeColor":"#777","padding":2,"symbolType":"square","symbolSize":36,"symbolStrokeColor":"#333","symbolStrokeWidth":0.5,"labelFontSize":8,"labelFontWeight":"bold","columnPadding":10,"labelOffset":3}}}}]}
   ]}
 ]},
   {"spacing":5,"resolve":{"scale":{"color":"independent"},"legend":{"color":"independent"}},"vconcat":[
    {"spacing":12,"hconcat":[
     {"title":{"text":"l","dx":-14,"offset":4},"spacing":6,"hconcat":[
      {"width":46,"height":113,"view":{"stroke":"#888"},"title":{"text":"IL-2","dx":7,"offset":-17,"fontSize":12},
       "data":{"values":[{"g":"WTʷᵗ","v":27,"hi":35,"s":""},{"g":"WTᵏᵒ","v":113,"hi":155,"s":"*"}]},
       "encoding":{"x":{"field":"g","type":"nominal","sort":null,"axis":null,"scale":{"paddingInner":0.2,"paddingOuter":0.2}},
        "y":{"field":"v","type":"quantitative","scale":{"domain":[0,300],"nice":false},"axis":{"values":[0,50,100,150,200,250,300],"title":"Cell frequency (per million)","domain":false}}},
       "layer":[
        {"mark":{"type":"bar","stroke":"#333","strokeWidth":0.5},"encoding":{"color":{"field":"g","type":"nominal","sort":null,"scale":{"range":["#808080","#000000"]},"legend":null}}},
        {"mark":{"type":"rule","color":"#999","strokeWidth":1},"encoding":{"y2":{"field":"hi"}}},
        {"mark":{"type":"text","baseline":"bottom","dy":-1,"fontSize":12,"fontWeight":"bold"},"encoding":{"y":{"field":"hi","type":"quantitative","scale":{"domain":[0,300],"nice":false},"title":"Cell frequency (per million)"},"text":{"field":"s"}}}]},
      {"width":48,"height":113,"view":{"stroke":"#888"},"title":{"text":"IFN-γ","dx":4,"offset":-15,"fontSize":7.5},
       "data":{"values":[{"g":"WTʷᵗ","v":9,"hi":12,"s":""},{"g":"WTᵏᵒ","v":192,"hi":277,"s":"*"}]},
       "encoding":{"x":{"field":"g","type":"nominal","sort":null,"axis":null,"scale":{"paddingInner":0.2,"paddingOuter":0.2}},
        "y":{"field":"v","type":"quantitative","scale":{"domain":[0,300],"nice":false},"axis":{"values":[0,50,100,150,200,250,300],"title":null,"domain":false}}},
       "layer":[
        {"mark":{"type":"bar","stroke":"#333","strokeWidth":0.5},"encoding":{"color":{"field":"g","type":"nominal","sort":null,"scale":{"range":["#808080","#000000"]},"legend":null}}},
        {"mark":{"type":"rule","color":"#999","strokeWidth":1},"encoding":{"y2":{"field":"hi"}}},
        {"mark":{"type":"text","baseline":"bottom","dy":-1,"fontSize":12,"fontWeight":"bold"},"encoding":{"y":{"field":"hi","type":"quantitative","scale":{"domain":[0,300],"nice":false},"title":null},"text":{"field":"s"}}}]}
     ]},
     {"width":94,"height":113,"data":{"values":[{"t":"WT recipients\n(non-irradiated)"}]},"mark":{"type":"text","fontSize":11.5,"fontWeight":"bold","lineBreak":"\n","lineHeight":15},"encoding":{"text":{"field":"t"}}}
    ]},
    {"width":117,"height":8,"data":{"values":[{"g":"WTʷᵗ"},{"g":"WTᵏᵒ"}]},"layer":[
     {"mark":{"type":"rule","color":"#888","strokeWidth":0.8},"encoding":{"y":{"datum":0.5,"type":"quantitative","scale":{"domain":[0,1]},"axis":null}}},
     {"mark":{"type":"bar"},"encoding":{"y":{"datum":0.5,"type":"quantitative","axis":null},"y2":{"datum":0.5},"color":{"field":"g","type":"nominal","scale":{"domain":["WTʷᵗ","WTᵏᵒ"],"range":["#808080","#000000"]},"legend":{"orient":"none","legendX":28,"legendY":-3,"direction":"horizontal","title":null,"fillColor":"white","strokeColor":"#777","padding":2,"symbolType":"square","symbolSize":36,"symbolStrokeColor":"#333","symbolStrokeWidth":0.5,"labelFontSize":8,"labelFontWeight":"bold","columnPadding":10,"labelOffset":3}}}}]}
   ]}
 ]
}
]
}
